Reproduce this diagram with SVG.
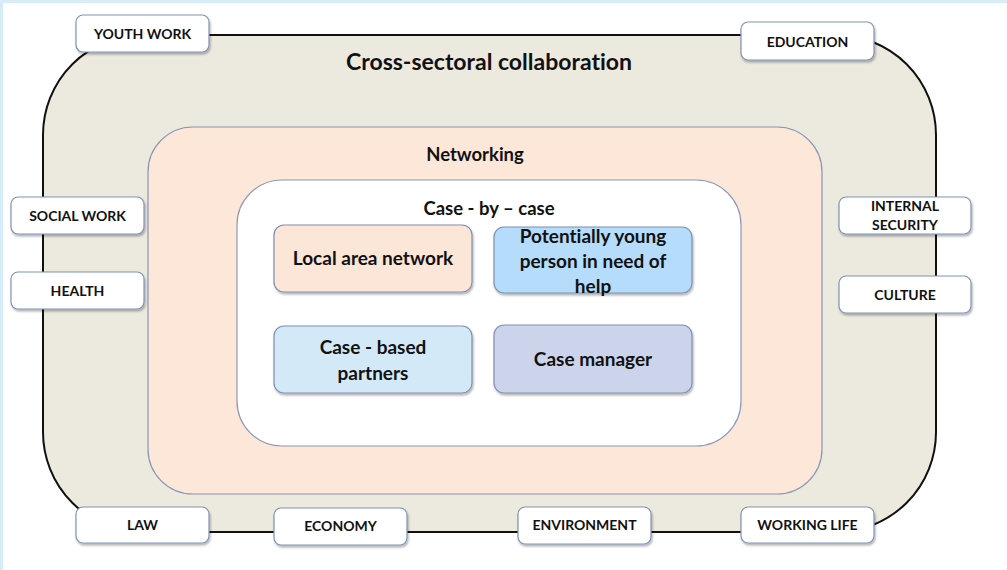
<svg xmlns="http://www.w3.org/2000/svg" width="1007" height="570" viewBox="0 0 1007 570">
<defs>
<filter id="sh" x="-10%" y="-10%" width="130%" height="140%">
<feDropShadow dx="1" dy="2" stdDeviation="1.2" flood-color="#000" flood-opacity="0.3"/>
</filter>
<style>
.t{font-family:Lato,"Open Sans","Liberation Sans",sans-serif;font-weight:bold;fill:#111;text-anchor:middle;font-variant-ligatures:none;font-feature-settings:"liga" 0}
.lbl rect{fill:#fff;stroke:#7f93b5;stroke-width:1.2}
.lbl text{font-size:14px}
.in rect{stroke:#7f8fae;stroke-width:1.2}
.in text{font-size:19px}
</style>
</defs>
<rect x="0" y="0" width="1007" height="570" fill="#fff"/>
<rect x="0" y="0" width="1007" height="3" fill="#d6ecfa"/>
<rect x="0" y="0" width="3" height="570" fill="#d6ecfa"/>
<g id="outer">
<rect x="43" y="35" width="893" height="497" rx="100" ry="100" fill="#ece9df" stroke="#111" stroke-width="2"/>
<text class="t" x="489" y="70" font-size="23">Cross-sectoral collaboration</text>
</g>
<g id="networking">
<rect x="148" y="127" width="674" height="367" rx="45" ry="45" fill="#fce7d9" stroke="#8696b4" stroke-width="1.2"/>
<text class="t" x="475" y="161" font-size="18.5">Networking</text>
</g>
<g id="casebycase">
<rect x="237" y="180" width="504" height="266" rx="45" ry="45" fill="#fff" stroke="#8a98b5" stroke-width="1.2"/>
<text class="t" x="489" y="215" font-size="18.5">Case - by – case</text>
</g>
<g id="local" class="in">
<rect x="274" y="225" width="198" height="67" rx="10" fill="#fce6d8" filter="url(#sh)"/>
<text class="t" x="373" y="265">Local area network</text>
</g>
<g id="young" class="in">
<rect x="494" y="227" width="198" height="66" rx="10" fill="#b5dcfa" filter="url(#sh)"/>
<text class="t" x="593" y="243">Potentially young</text>
<text class="t" x="593" y="268">person in need of</text>
<text class="t" x="593" y="293">help</text>
</g>
<g id="partners" class="in">
<rect x="274" y="326" width="198" height="67" rx="10" fill="#d4e9f8" filter="url(#sh)"/>
<text class="t" x="373" y="354">Case - based</text>
<text class="t" x="373" y="380">partners</text>
</g>
<g id="manager" class="in">
<rect x="494" y="325" width="198" height="68" rx="10" fill="#ccd4eb" filter="url(#sh)"/>
<text class="t" x="593" y="366">Case manager</text>
</g>
<g id="youthwork" class="lbl">
<rect x="76" y="15" width="133" height="37" rx="7" filter="url(#sh)"/>
<text class="t" x="142.5" y="39">YOUTH WORK</text>
</g>
<g id="education" class="lbl">
<rect x="741" y="22" width="133" height="38" rx="7" filter="url(#sh)"/>
<text class="t" x="807.5" y="47">EDUCATION</text>
</g>
<g id="socialwork" class="lbl">
<rect x="11" y="197" width="133" height="37" rx="7" filter="url(#sh)"/>
<text class="t" x="77.5" y="221">SOCIAL WORK</text>
</g>
<g id="health" class="lbl">
<rect x="11" y="272" width="133" height="37" rx="7" filter="url(#sh)"/>
<text class="t" x="77.5" y="296">HEALTH</text>
</g>
<g id="internalsecurity" class="lbl">
<rect x="839" y="197" width="132" height="37" rx="7" filter="url(#sh)"/>
<text class="t" x="905" y="211">INTERNAL</text>
<text class="t" x="905" y="230">SECURITY</text>
</g>
<g id="culture" class="lbl">
<rect x="839" y="276" width="132" height="37" rx="7" filter="url(#sh)"/>
<text class="t" x="905" y="300">CULTURE</text>
</g>
<g id="law" class="lbl">
<rect x="76" y="507" width="133" height="36" rx="7" filter="url(#sh)"/>
<text class="t" x="142.5" y="530">LAW</text>
</g>
<g id="economy" class="lbl">
<rect x="274" y="508" width="133" height="37" rx="7" filter="url(#sh)"/>
<text class="t" x="340.5" y="531">ECONOMY</text>
</g>
<g id="environment" class="lbl">
<rect x="518" y="507" width="133" height="37" rx="7" filter="url(#sh)"/>
<text class="t" x="584.5" y="530">ENVIRONMENT</text>
</g>
<g id="workinglife" class="lbl">
<rect x="741" y="507" width="133" height="36" rx="7" filter="url(#sh)"/>
<text class="t" x="807.5" y="530">WORKING LIFE</text>
</g>
<g id="connectors"></g>
</svg>
